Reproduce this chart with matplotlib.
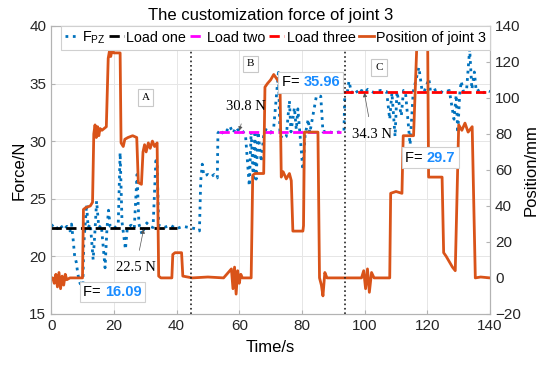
import matplotlib
matplotlib.use('Agg')
import matplotlib.pyplot as plt
from matplotlib.offsetbox import TextArea, HPacker, AnnotationBbox

plt.rcParams['font.family'] = ['Liberation Sans', 'DejaVu Sans']
plt.rcParams['mathtext.fontset'] = 'custom'
plt.rcParams['mathtext.rm'] = 'Liberation Sans'

# force of joint 3 (left axis)
force_t = [0, 1, 2, 3, 4, 5, 6, 6.5, 7, 7.5, 8, 8.5, 9, 9.5, 10, 10.4, 10.8, 11.3, 11.8,
           12.5, 13.4, 14, 14.5, 15.2, 16, 17.2, 17.8, 18.3, 18.8, 20, 21.4, 22, 22.6,
           23.7, 24.3, 25.5, 26.5, 27.4, 28, 29, 29.6, 30.5, 31.5, 32.5, 33.4, 33.8, 34.3,
           36, 38, 40, 42, 44, 46, 47.3, 47.7, 48.2, 48.7, 50, 51, 52, 53, 53.2, 54, 55,
           56, 57, 58, 59, 60, 61, 62, 63.2, 63.8, 64.5, 65, 65.4, 66, 67, 67.8, 68.5,
           70, 71, 72.5, 73, 74, 75, 76, 76.5, 77.6, 78.2, 78.7, 79.3, 80.3, 81, 82,
           82.5, 84.6, 86, 86.7, 88, 90, 92, 93.4, 93.7, 94.5, 95, 95.8, 97, 98, 99,
           100, 101, 103, 105, 107, 108, 108.7, 109.7, 110.3, 111.7, 112.4, 113, 114.5,
           115.5, 117.3, 118.3, 119, 120.5, 121, 123, 125, 127, 128.5, 129.2, 129.7,
           130.3, 130.8, 131.5, 132.5, 133.5, 134.2, 135, 135.6, 137, 138, 139, 140]
force_v = [22.6, 22.8, 22.4, 22.7, 22.3, 22.6, 22.2, 22.8, 21.5, 20.0, 19.5, 18.5, 17.8,
           17.5, 16.09, 21.0, 22.5, 24.5, 22.5, 22.8, 19.7, 22.3, 24.8, 22.5, 22.7, 19.0,
           22.4, 24.0, 22.6, 22.4, 22.8, 29.0, 23.0, 20.6, 22.5, 22.7, 22.4, 27.1, 22.8,
           21.9, 22.4, 22.9, 22.6, 22.5, 28.3, 28.0, 22.7, 22.5, 22.7, 22.4, 22.6, 22.5,
           22.4, 22.2, 26.5, 28.0, 27.0, 27.1, 26.9, 27.1, 26.8, 30.7, 31.0, 30.6, 30.9,
           31.3, 30.7, 31.2, 30.8, 30.9, 30.5, 26.1, 30.8, 26.5, 30.6, 26.7, 30.8, 28.2,
           30.5, 31.0, 30.7, 31.2, 35.96, 30.5, 30.2, 30.4, 33.5, 30.8, 32.9, 31.0, 32.8,
           30.8, 27.5, 30.5, 31.9, 30.7, 33.9, 33.9, 30.8, 30.9, 30.7, 30.8, 30.9, 34.5,
           34.3, 35.2, 34.2, 34.5, 34.1, 34.4, 34.2, 34.5, 34.2, 34.4, 34.3, 31.9, 34.2,
           30.4, 34.3, 32.2, 34.4, 34.3, 29.7, 34.3, 36.4, 34.4, 34.3, 35.4, 34.3, 34.5,
           34.2, 34.4, 31.9, 34.0, 30.7, 34.0, 35.2, 34.3, 34.4, 38.0, 34.5, 36.0, 34.3,
           34.5, 34.2, 34.4, 34.3]

# position of joint 3 (right axis)
pos_t = [0, 0.5, 1, 1.5, 2, 2.5, 3, 3.5, 4, 4.5, 5, 6,
         10.0, 10.3, 11, 12.5, 13.2, 13.6, 14, 14.4, 14.8, 15.2, 15.6, 16.2,
         17.6, 18.2, 18.6, 19, 19.5, 20, 22, 22.3, 23, 23.5, 24.5, 26,
         27.3, 27.8, 28.8, 29.3, 29.8, 30.3, 31, 31.6, 32.3, 33, 33.8, 34.3,
         35, 38.5, 38.8, 39.5, 41.6, 42, 45, 50, 55, 57.5, 58, 58.5,
         59, 59.5, 60, 60.5, 61, 63.8, 64.3, 65, 67.8, 68.2, 69, 70,
         71, 72.2, 73, 73.4, 74, 75, 76, 76.6, 77.1, 78, 80.3, 80.5,
         80.8, 82, 85.1, 85.6, 86.2, 86.7, 87.3, 88, 92, 96, 99, 99.7,
         100.3, 100.9, 101.5, 102.2, 103, 108, 108.3, 110, 111.9, 112.3, 115.6, 116.7,
         117.5, 120.1, 120.4, 124.7, 125.2, 126, 127, 128, 128.9, 130, 131, 132,
         133, 134.3, 135.3, 137, 140]
pos_v = [0, 0, -3, 2, -5, 3, -6, 1, -4, 2, -1, 0,
         0, 38, 39, 40, 42, 80, 85, 78, 84, 79, 83, 82,
         84, 122, 126, 123, 127, 125, 125, 75, 73, 77, 78, 79,
         78, 53, 52, 70, 74, 70, 75, 72, 76, 73, 75, 1,
         0, 0, 13, 14, 14, 1, 0, 0.5, 0, 5, -6, 6,
         -9, 4, -3, 2, 0, 0, 57, 58, 58, 106, 108, 110,
         113, 110, 108, 56, 59, 55, 58, 54, 26, 26, 26, 29,
         81, 81, 81, 0, -4, -10, 3, 0, 0, 0, 0, 4,
         -6, 5, -8, 3, 0, 0, 47, 48, 47, 79, 79, 132,
         133, 132, 56, 56, 14, 12, 9, 6, 4, 85, 82, 86,
         81, 84, 0, 0.5, 0]

# fitted load levels
load_names = ['Load one', 'Load two', 'Load three']
load_levels = [22.5, 30.8, 34.3]
load_start = [0, 53.5, 93.2]
load_end = [40, 92.6, 140]
load_colors = ['black', 'magenta', 'red']

# phase boundaries
phase_t = [44.5, 93.6]

blue = '#0072BD'
orange = '#D95319'
edge = '#b3b3b3'

fig, ax = plt.subplots(figsize=(5.5, 3.65), dpi=100)
fig.subplots_adjust(left=0.093, right=0.891, top=0.929, bottom=0.14)
ax2 = ax.twinx()

h_f, = ax.plot(force_t, force_v, ':', color=blue, lw=2, label=r'F$_\mathregular{PZ}$')
h_loads = []
for name, lv, t0, t1, c in zip(load_names, load_levels, load_start, load_end, load_colors):
    h, = ax.plot([t0, t1], [lv, lv], '--', color=c, lw=2, label=name, zorder=3)
    h_loads.append(h)
h_p, = ax2.plot(pos_t, pos_v, '-', color=orange, lw=2, label='Position of joint 3')

for t in phase_t:
    ax2.axvline(t, color='#222222', ls=':', lw=1.2)

ax.set_xlim(0, 140)
ax.set_ylim(15, 40)
ax2.set_ylim(-20, 140)
ax.set_xticks(range(0, 141, 20))
ax.set_yticks(range(15, 41, 5))
ax2.set_yticks(range(-20, 141, 20))
ax.grid(True, color='#e6e6e6', lw=0.7)
ax.set_axisbelow(True)

for a in (ax, ax2):
    for s in a.spines.values():
        s.set_color(edge)
    a.tick_params(direction='in', length=3, color=edge, labelsize=11, labelcolor='#262626')

ax.set_xlabel('Time/s', fontsize=12, labelpad=5)
ax.set_ylabel('Force/N', fontsize=12, labelpad=2)
ax2.set_ylabel('Position/mm', fontsize=12, labelpad=2)
ax.set_title('The customization force of joint 3', fontsize=12, pad=4)

# phase letters
serif = ['Liberation Serif', 'DejaVu Serif']
for lab, tx, fy in [('A', 30.1, 33.8), ('B', 63.6, 36.7), ('C', 104.6, 36.4)]:
    ax2.text(tx, fy, lab, transform=ax.transData, family=serif, fontsize=8,
             ha='center', va='center',
             bbox=dict(boxstyle='square,pad=0.35', fc='white', ec='#c8c8c8', lw=0.8))

# load level notes
for txt, xy, xyt in [('22.5 N', (29.5, 22.35), (27.0, 19.0)),
                     ('30.8 N', (60.0, 30.9), (62.2, 33.0)),
                     ('34.3 N', (99.9, 34.2), (102.3, 30.6))]:
    ax2.annotate(txt, xy=xy, xycoords=ax.transData, xytext=xyt, textcoords=ax.transData,
                 family=serif, fontsize=10.5, ha='center', va='center',
                 arrowprops=dict(arrowstyle='-|>', color='#555555', lw=0.5,
                                 mutation_scale=6, shrinkA=6, shrinkB=0))

# data tips
for val, xy, box in [('16.09', (10.0, 16.09), (19.6, 16.9)),
                     ('35.96', (72.5, 35.96), (82.8, 35.1)),
                     ('29.7', (114.5, 29.7), (120.9, 28.55))]:
    pack = HPacker(children=[TextArea('F= ', textprops=dict(fontsize=10.5, color='black')),
                             TextArea(val, textprops=dict(fontsize=10.5, color='#1a8cff',
                                                          fontweight='bold'))],
                   pad=0, sep=0, align='baseline')
    ab = AnnotationBbox(pack, xy, xybox=box, xycoords=ax.transData, boxcoords=ax.transData,
                        pad=0.25, bboxprops=dict(ec='#d0d0d0', fc='white', lw=0.8),
                        zorder=5)
    ax2.add_artist(ab)

leg = ax2.legend(handles=[h_f] + h_loads + [h_p], loc='upper right', ncol=5,
                 fontsize=10.4, handlelength=1.0, handletextpad=0.2, columnspacing=0.25,
                 borderaxespad=0, borderpad=0.25, fancybox=False, framealpha=1,
                 edgecolor='#d0d0d0')
leg.get_frame().set_linewidth(0.8)

fig.savefig('out.png', dpi=100)
